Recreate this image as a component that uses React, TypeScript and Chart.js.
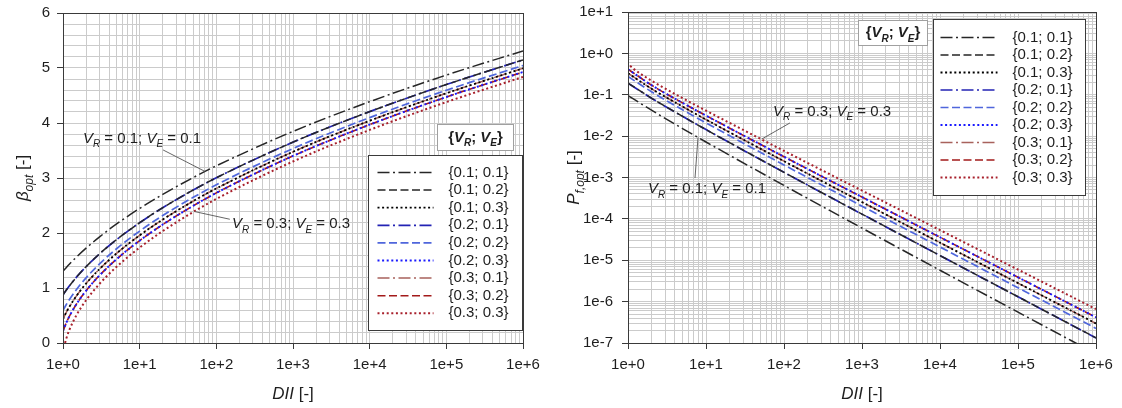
import React, { useEffect, useRef } from 'react';
import { Chart, registerables } from 'chart.js';

Chart.register(...registerables);

const FONT = '"Liberation Sans", Arial, Helvetica, sans-serif';
const FRAME = '#3a3a3a';
const GRID = '#cbcbcb';
const TEXT = '#1e1e1e';

// ---------- data ----------
// DII abscissa points for the beta_opt curves
const DII_BETA = [1, 1.1, 1.2, 1.5, 2, 3, 5, 10, 20, 50, 100, 1e3, 1e4, 1e5, 1e6];
const DII_BETA_33 = [1.0635, 1.1, 1.2, 1.5, 2, 3, 5, 10, 20, 50, 100, 1e3, 1e4, 1e5, 1e6];

const BETA_11 = [1.306, 1.37, 1.427, 1.563, 1.724, 1.93, 2.164, 2.447, 2.702, 3.008, 3.221, 3.847, 4.388, 4.871, 5.311];
const BETA_12 = [0.875, 0.959, 1.03, 1.197, 1.387, 1.622, 1.88, 2.187, 2.46, 2.782, 3.004, 3.652, 4.207, 4.699, 5.147];
const BETA_13 = [0.435, 0.553, 0.648, 0.857, 1.081, 1.346, 1.629, 1.958, 2.244, 2.58, 2.81, 3.476, 4.041, 4.541, 4.994];
const BETA_21 = [0.875, 0.959, 1.03, 1.197, 1.387, 1.622, 1.88, 2.187, 2.46, 2.782, 3.004, 3.652, 4.207, 4.699, 5.147];
const BETA_22 = [0.593, 0.696, 0.781, 0.974, 1.185, 1.439, 1.714, 2.035, 2.317, 2.648, 2.876, 3.536, 4.098, 4.595, 5.046];
const BETA_23 = [0.216, 0.362, 0.474, 0.709, 0.95, 1.23, 1.524, 1.861, 2.154, 2.495, 2.729, 3.401, 3.97, 4.472, 4.927];
const BETA_31 = [0.435, 0.553, 0.648, 0.857, 1.081, 1.346, 1.629, 1.958, 2.244, 2.58, 2.81, 3.476, 4.041, 4.541, 4.994];
const BETA_32 = [0.216, 0.362, 0.474, 0.709, 0.95, 1.23, 1.524, 1.861, 2.154, 2.495, 2.729, 3.401, 3.97, 4.472, 4.927];
const BETA_33 = [0, 0.073, 0.225, 0.507, 0.777, 1.077, 1.386, 1.735, 2.035, 2.383, 2.62, 3.3, 3.874, 4.38, 4.838];

// DII abscissa points for the P_f,opt curves
const DII_PF = [1, 2, 5, 10, 100, 1e3, 1e4, 1e5, 1e6];
const DII_PF_33 = [1.0635, 1.2, 1.5, 2, 5, 10, 100, 1e3, 1e4, 1e5, 1e6];

const PF_11 = [0.0958, 0.04236, 0.01523, 0.00722, 6.42e-4, 5.99e-5, 5.73e-6, 5.57e-7, 5.47e-8];
const PF_12 = [0.1908, 0.08272, 0.03005, 0.01437, 1.332e-3, 1.302e-4, 1.299e-5, 1.309e-6, 1.328e-7];
const PF_13 = [0.3318, 0.1399, 0.05166, 0.02512, 2.477e-3, 2.546e-4, 2.664e-5, 2.804e-6, 2.96e-7];
const PF_21 = [0.1908, 0.08272, 0.03005, 0.01437, 1.332e-3, 1.302e-4, 1.299e-5, 1.309e-6, 1.328e-7];
const PF_22 = [0.2766, 0.118, 0.04327, 0.02093, 2.01e-3, 2.032e-4, 2.091e-5, 2.166e-6, 2.254e-7];
const PF_23 = [0.4145, 0.1711, 0.06376, 0.03137, 3.177e-3, 3.368e-4, 3.599e-5, 3.871e-6, 4.171e-7];
const PF_31 = [0.3318, 0.1399, 0.05166, 0.02512, 2.477e-3, 2.546e-4, 2.664e-5, 2.804e-6, 2.96e-7];
const PF_32 = [0.4145, 0.1711, 0.06376, 0.03137, 3.177e-3, 3.368e-4, 3.599e-5, 3.871e-6, 4.171e-7];
const PF_33 = [0.5, 0.411, 0.3061, 0.2186, 0.08287, 0.04138, 4.396e-3, 4.834e-4, 5.361e-5, 5.944e-6, 6.584e-7];

const SERIES_LABELS = ['{0.1; 0.1}', '{0.1; 0.2}', '{0.1; 0.3}', '{0.2; 0.1}', '{0.2; 0.2}', '{0.2; 0.3}', '{0.3; 0.1}', '{0.3; 0.2}', '{0.3; 0.3}'];
const BETA_VALUES = [BETA_11, BETA_12, BETA_13, BETA_21, BETA_22, BETA_23, BETA_31, BETA_32, BETA_33];
const BETA_X = [DII_BETA, DII_BETA, DII_BETA, DII_BETA, DII_BETA, DII_BETA, DII_BETA, DII_BETA, DII_BETA_33];
const PF_VALUES = [PF_11, PF_12, PF_13, PF_21, PF_22, PF_23, PF_31, PF_32, PF_33];
const PF_X = [DII_PF, DII_PF, DII_PF, DII_PF, DII_PF, DII_PF, DII_PF, DII_PF, DII_PF_33];

// tick labels
const X_DECADES = [1, 10, 100, 1e3, 1e4, 1e5, 1e6];
const X_TICK_LABELS = ['1e+0', '1e+1', '1e+2', '1e+3', '1e+4', '1e+5', '1e+6'];
const BETA_TICKS = [0, 1, 2, 3, 4, 5, 6];
const BETA_TICK_LABELS = ['0', '1', '2', '3', '4', '5', '6'];
const PF_DECADES = [1e-7, 1e-6, 1e-5, 1e-4, 1e-3, 1e-2, 1e-1, 1, 10];
const PF_TICK_LABELS = ['1e-7', '1e-6', '1e-5', '1e-4', '1e-3', '1e-2', '1e-1', '1e+0', '1e+1'];

// ---------- styles ----------
const DASH_DOT = [12, 3.5, 2, 3.5];
const DASHED = [8, 3.5];
const DOTTED = [2, 2.6];
const SERIES_STYLE = [
  { color: '#262626', dash: DASH_DOT, width: 1.5 },
  { color: '#262626', dash: DASHED, width: 1.5 },
  { color: '#000000', dash: DOTTED, width: 1.8 },
  { color: '#2323b4', dash: DASH_DOT, width: 1.7 },
  { color: '#4f66dc', dash: DASHED, width: 1.7 },
  { color: '#1a1aff', dash: DOTTED, width: 1.9 },
  { color: '#a8625c', dash: DASH_DOT, width: 1.5 },
  { color: '#a31a1a', dash: DASHED, width: 1.6 },
  { color: '#a8202c', dash: DOTTED, width: 2 },
];

type Part = { t: string; i?: boolean; b?: boolean; sub?: boolean };

function fontOf(p: Part, size: number) {
  const s = p.sub ? Math.round(size * 0.68) : size;
  return `${p.i ? 'italic ' : ''}${p.b ? 'bold ' : ''}${s}px ${FONT}`;
}
function richWidth(ctx: CanvasRenderingContext2D, parts: Part[], size: number) {
  let w = 0;
  for (const p of parts) {
    ctx.font = fontOf(p, size);
    w += ctx.measureText(p.t).width;
  }
  return w;
}
function drawRich(ctx: CanvasRenderingContext2D, parts: Part[], x: number, y: number, size: number, center = false) {
  const w = richWidth(ctx, parts, size);
  let cx = center ? x - w / 2 : x;
  ctx.textAlign = 'left';
  ctx.textBaseline = 'alphabetic';
  ctx.fillStyle = TEXT;
  for (const p of parts) {
    ctx.font = fontOf(p, size);
    ctx.fillText(p.t, cx, y + (p.sub ? size * 0.3 : 0));
    cx += ctx.measureText(p.t).width;
  }
}

const vrve = (a: string, b: string): Part[] => [
  { t: 'V', i: true }, { t: 'R', i: true, sub: true }, { t: ` = ${a}; ` },
  { t: 'V', i: true }, { t: 'E', i: true, sub: true }, { t: ` = ${b}` },
];
const VRVE_LABEL: Part[] = [
  { t: '{', b: true }, { t: 'V', b: true, i: true }, { t: 'R', b: true, i: true, sub: true },
  { t: '; ', b: true }, { t: 'V', b: true, i: true }, { t: 'E', b: true, i: true, sub: true }, { t: '}', b: true },
];

type Pt = { x: number; y: number };
type Annot = { text: Part[]; at: Pt; from: Pt; to: Pt };
type Decor = {
  yTitle: Part[];
  yTitleDx: number;
  legend: { dxRight: number; dy: number; fromTop: boolean; w: number; h: number; first: number; step: number; s0: number; s1: number; tx: number };
  label: { dxRight: number; dy: number; fromTop: boolean; w: number; h: number };
  annots: Annot[];
};

function decorPlugin(cfg: Decor) {
  return {
    id: 'decor',
    afterDraw(chart: any) {
      const ctx: CanvasRenderingContext2D = chart.ctx;
      const a = chart.chartArea;
      const xs = chart.scales.x;
      const ys = chart.scales.y;
      ctx.save();
      ctx.setLineDash([]);
      // frame
      ctx.strokeStyle = FRAME;
      ctx.lineWidth = 1;
      ctx.strokeRect(Math.round(a.left) + 0.5, Math.round(a.top) + 0.5, Math.round(a.right) - Math.round(a.left), Math.round(a.bottom) - Math.round(a.top));

      // annotations
      for (const an of cfg.annots) {
        ctx.strokeStyle = '#555555';
        ctx.lineWidth = 0.9;
        ctx.beginPath();
        ctx.moveTo(xs.getPixelForValue(an.from.x), ys.getPixelForValue(an.from.y));
        ctx.lineTo(xs.getPixelForValue(an.to.x), ys.getPixelForValue(an.to.y));
        ctx.stroke();
        drawRich(ctx, an.text, xs.getPixelForValue(an.at.x), ys.getPixelForValue(an.at.y), 15);
      }

      // {VR; VE} label box
      const L = cfg.label;
      const lx = Math.round(a.right - L.dxRight) + 0.5;
      const ly = Math.round(L.fromTop ? a.top + L.dy : a.bottom - L.dy) + 0.5;
      ctx.fillStyle = '#ffffff';
      ctx.fillRect(lx, ly, L.w, L.h);
      ctx.strokeStyle = '#a0a0a0';
      ctx.lineWidth = 1;
      ctx.strokeRect(lx, ly, L.w, L.h);
      drawRich(ctx, VRVE_LABEL, lx + L.w / 2, ly + L.h / 2 + 4, 15, true);

      // legend
      const G = cfg.legend;
      const gx = Math.round(a.right - G.dxRight) + 0.5;
      const gy = Math.round(G.fromTop ? a.top + G.dy : a.bottom - G.dy) + 0.5;
      ctx.fillStyle = '#ffffff';
      ctx.fillRect(gx, gy, G.w, G.h);
      ctx.strokeStyle = FRAME;
      ctx.lineWidth = 1;
      ctx.strokeRect(gx, gy, G.w, G.h);
      chart.data.datasets.forEach((ds: any, i: number) => {
        const yy = gy + G.first + i * G.step;
        ctx.strokeStyle = ds.borderColor;
        ctx.lineWidth = ds.borderWidth;
        ctx.setLineDash(ds.borderDash);
        ctx.beginPath();
        ctx.moveTo(gx + G.s0, yy);
        ctx.lineTo(gx + G.s1, yy);
        ctx.stroke();
        ctx.setLineDash([]);
        ctx.fillStyle = TEXT;
        ctx.font = `15px ${FONT}`;
        ctx.textAlign = 'left';
        ctx.textBaseline = 'middle';
        ctx.fillText(ds.label, gx + G.tx, yy);
      });

      // axis titles
      ctx.save();
      ctx.translate(a.left - cfg.yTitleDx, (a.top + a.bottom) / 2);
      ctx.rotate(-Math.PI / 2);
      drawRich(ctx, cfg.yTitle, 0, 6, 17, true);
      ctx.restore();
      drawRich(ctx, [{ t: 'DII', i: true }, { t: ' [-]' }], (a.left + a.right) / 2, a.bottom + 56, 17, true);
      ctx.restore();
    },
  };
}

function logTicks(decades: number[]) {
  const out: { value: number; major: boolean }[] = [];
  decades.forEach((d, k) => {
    out.push({ value: d, major: true });
    if (k < decades.length - 1) for (let m = 2; m <= 9; m++) out.push({ value: m * d, major: false });
  });
  return out;
}
const findIdx = (arr: number[], v: number) => arr.findIndex((d) => Math.abs(d - v) <= Math.abs(d) * 1e-9 + 1e-12);

function makeDatasets(xsArr: number[][], ysArr: number[][]) {
  return SERIES_LABELS.map((label, i) => ({
    label,
    data: xsArr[i].map((x, j) => ({ x, y: ysArr[i][j] })),
    borderColor: SERIES_STYLE[i].color,
    borderDash: SERIES_STYLE[i].dash,
    borderWidth: SERIES_STYLE[i].width,
    pointRadius: 0,
    fill: false,
    cubicInterpolationMode: 'monotone' as const,
    borderCapStyle: 'butt' as const,
  }));
}

function xScale(height: number) {
  return {
    type: 'logarithmic' as const,
    min: 1,
    max: 1e6,
    afterFit: (s: any) => { s.height = height; s.paddingLeft = 0; s.paddingRight = 0; },
    afterBuildTicks: (s: any) => { s.ticks = logTicks(X_DECADES); },
    ticks: {
      autoSkip: false,
      maxRotation: 0,
      padding: 7,
      color: TEXT,
      font: { size: 15, family: FONT },
      callback: (v: any) => { const k = findIdx(X_DECADES, Number(v)); return k >= 0 ? X_TICK_LABELS[k] : ''; },
    },
    grid: {
      color: GRID,
      lineWidth: 1,
      tickLength: 6,
      tickColor: (c: any) => (c.tick && findIdx(X_DECADES, c.tick.value) >= 0 ? FRAME : 'rgba(0,0,0,0)'),
    },
    border: { color: FRAME },
  };
}

function leftConfig(): any {
  return {
    type: 'line',
    data: { datasets: makeDatasets(BETA_X, BETA_VALUES) },
    options: {
      responsive: false,
      animation: false,
      devicePixelRatio: 1,
      layout: { padding: { left: 0, right: 38, top: 13, bottom: 0 } },
      plugins: { legend: { display: false }, tooltip: { enabled: false } },
      scales: {
        x: xScale(65),
        y: {
          type: 'linear',
          min: 0,
          max: 6,
          afterFit: (s: any) => { s.width = 63; s.paddingTop = 0; s.paddingBottom = 0; },
          afterBuildTicks: (s: any) => {
            const t: { value: number }[] = [];
            for (let i = 0; i <= 30; i++) t.push({ value: i / 5 });
            s.ticks = t;
          },
          ticks: {
            autoSkip: false,
            padding: 7,
            color: TEXT,
            font: { size: 15, family: FONT },
            callback: (v: any) => { const k = findIdx(BETA_TICKS, Number(v)); return k >= 0 ? BETA_TICK_LABELS[k] : ''; },
          },
          grid: {
            color: GRID,
            lineWidth: 1,
            tickLength: 6,
            tickColor: (c: any) => (c.tick && findIdx(BETA_TICKS, c.tick.value) >= 0 ? FRAME : 'rgba(0,0,0,0)'),
          },
          border: { color: FRAME },
        },
      },
    },
    plugins: [
      decorPlugin({
        yTitle: [{ t: 'β', i: true }, { t: 'opt', i: true, sub: true }, { t: ' [-]' }],
        yTitleDx: 41,
        legend: { dxRight: 155, dy: 188, fromTop: false, w: 154, h: 175, first: 17, step: 17.6, s0: 9, s1: 65, tx: 80 },
        label: { dxRight: 86, dy: 219, fromTop: false, w: 76, h: 26 },
        annots: [
          { text: vrve('0.1', '0.1'), at: { x: 1.82, y: 3.64 }, from: { x: 20.2, y: 3.51 }, to: { x: 71, y: 3.12 } },
          { text: vrve('0.3', '0.3'), at: { x: 160, y: 2.09 }, from: { x: 150, y: 2.25 }, to: { x: 52, y: 2.39 } },
        ],
      }),
    ],
  };
}

function rightConfig(): any {
  return {
    type: 'line',
    data: { datasets: makeDatasets(PF_X, PF_VALUES) },
    options: {
      responsive: false,
      animation: false,
      devicePixelRatio: 1,
      layout: { padding: { left: 0, right: 26, top: 12, bottom: 0 } },
      plugins: { legend: { display: false }, tooltip: { enabled: false } },
      scales: {
        x: xScale(65),
        y: {
          type: 'logarithmic',
          min: 1e-7,
          max: 10,
          afterFit: (s: any) => { s.width = 67; s.paddingTop = 0; s.paddingBottom = 0; },
          afterBuildTicks: (s: any) => { s.ticks = logTicks(PF_DECADES); },
          ticks: {
            autoSkip: false,
            padding: 9,
            color: TEXT,
            font: { size: 15, family: FONT },
            callback: (v: any) => { const k = findIdx(PF_DECADES, Number(v)); return k >= 0 ? PF_TICK_LABELS[k] : ''; },
          },
          grid: {
            color: GRID,
            lineWidth: 1,
            tickLength: 6,
            tickColor: (c: any) => (c.tick && findIdx(PF_DECADES, c.tick.value) >= 0 ? FRAME : 'rgba(0,0,0,0)'),
          },
          border: { color: FRAME },
        },
      },
    },
    plugins: [
      decorPlugin({
        yTitle: [{ t: 'P', i: true }, { t: 'f,opt', i: true, sub: true }, { t: ' [-]' }],
        yTitleDx: 55,
        legend: { dxRight: 163, dy: 7, fromTop: true, w: 152, h: 176, first: 18, step: 17.5, s0: 7, s1: 64, tx: 79 },
        label: { dxRight: 238, dy: 8, fromTop: true, w: 69, h: 25 },
        annots: [
          { text: vrve('0.3', '0.3'), at: { x: 72.3, y: 0.0307 }, from: { x: 119, y: 0.0208 }, to: { x: 52, y: 0.0085 } },
          { text: vrve('0.1', '0.1'), at: { x: 1.8, y: 4.2e-4 }, from: { x: 7.23, y: 9.7e-4 }, to: { x: 7.9, y: 0.0093 } },
        ],
      }),
    ],
  };
}

export default function App() {
  const leftRef = useRef<HTMLCanvasElement>(null);
  const rightRef = useRef<HTMLCanvasElement>(null);
  useEffect(() => {
    document.body.style.margin = '0';
    const c1 = new Chart(leftRef.current as HTMLCanvasElement, leftConfig());
    const c2 = new Chart(rightRef.current as HTMLCanvasElement, rightConfig());
    return () => {
      c1.destroy();
      c2.destroy();
    };
  }, []);
  return (
    <div style={{ width: 1122, height: 408, display: 'flex', background: '#ffffff' }}>
      <canvas ref={leftRef} width={561} height={408} style={{ display: 'block', width: 561, height: 408 }} />
      <canvas ref={rightRef} width={561} height={408} style={{ display: 'block', width: 561, height: 408 }} />
    </div>
  );
}
